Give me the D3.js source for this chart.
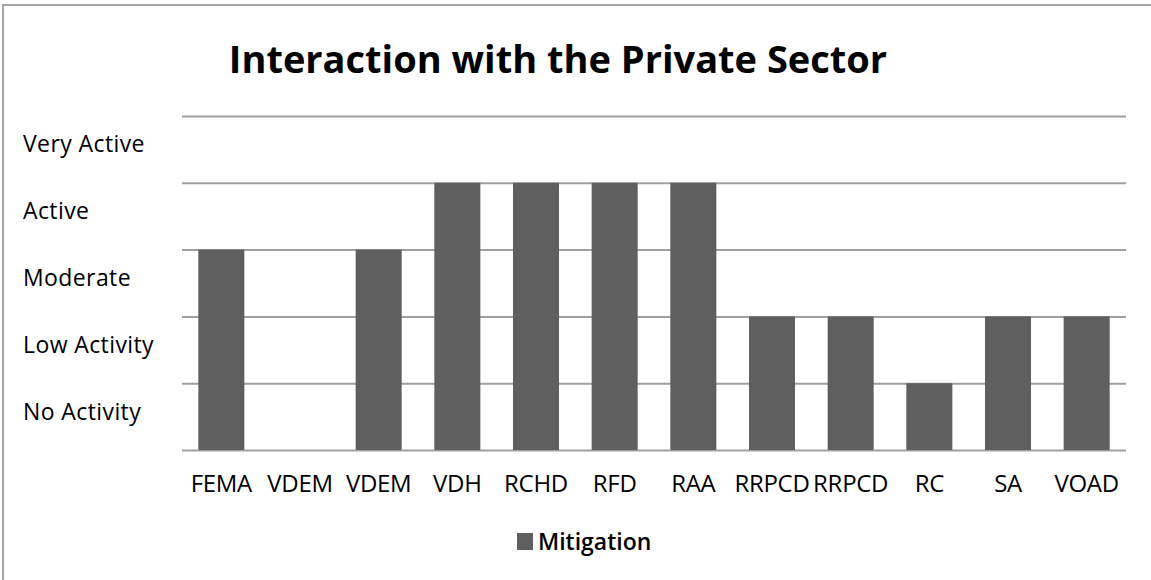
<!DOCTYPE html>
<html>
<head>
<meta charset="utf-8">
<script src="https://cdn.jsdelivr.net/npm/d3@7"></script>
<style>
  body { margin: 0; background: #fff; }
  text { font-family: 'Open Sans', sans-serif; fill: #000; }
</style>
</head>
<body>
<div class="holder"></div>
<script>
const width = 1151;
const height = 580;

const agencies = ['FEMA', 'VDEM', 'VDEM', 'VDH', 'RCHD', 'RFD', 'RAA', 'RRPCD', 'RRPCD', 'RC', 'SA', 'VOAD'];
const mitigation = [3, 0, 3, 4, 4, 4, 4, 2, 2, 1, 2, 2];
const levels = ['No Activity', 'Low Activity', 'Moderate', 'Active', 'Very Active'];

const plot = { left: 182, right: 1126, top: 116, bottom: 450 };

const svg = d3
  .select('.holder')
  .append('svg')
  .attr('width', width)
  .attr('height', height);

// chart frame
svg
  .append('path')
  .attr('d', `M3,${height} L3,5 L${width},5`)
  .attr('fill', 'none')
  .attr('stroke', '#a6a6a6')
  .attr('stroke-width', 2);

svg
  .append('text')
  .attr('x', 558)
  .attr('y', 73)
  .attr('text-anchor', 'middle')
  .style('font-size', '38px')
  .style('font-weight', 'bold')
  .text('Interaction with the Private Sector');

const xScale = d3
  .scaleBand()
  .domain(d3.range(agencies.length))
  .range([plot.left, plot.right])
  .paddingInner(0.415)
  .paddingOuter(0.2075);

const yScale = d3
  .scaleLinear()
  .domain([0, levels.length])
  .range([plot.bottom, plot.top]);

const levelScale = d3
  .scaleBand()
  .domain(levels)
  .range([plot.bottom, plot.top]);

// gridlines
svg
  .append('g')
  .attr('transform', `translate(${plot.left}, 0)`)
  .call(d3.axisLeft(yScale).ticks(levels.length).tickSize(-(plot.right - plot.left)).tickFormat(''))
  .call(g => g.select('.domain').remove())
  .call(g => g.selectAll('line').attr('stroke', '#a0a0a0').attr('stroke-width', 2));

// y labels
svg
  .append('g')
  .selectAll('text')
  .data(levels)
  .enter()
  .append('text')
  .attr('x', 23)
  .attr('y', d => levelScale(d) + levelScale.bandwidth() / 2 - 5)
  .attr('dy', '0.35em')
  .style('font-size', '23px')
  .style('letter-spacing', '0.4px')
  .text(d => d);

svg
  .append('g')
  .selectAll('rect')
  .data(mitigation)
  .enter()
  .append('rect')
  .attr('x', (d, i) => xScale(i))
  .attr('y', d => yScale(d))
  .attr('width', xScale.bandwidth())
  .attr('height', d => yScale(0) - yScale(d))
  .style('fill', '#5f5f5f');

// x labels
svg
  .append('g')
  .selectAll('text')
  .data(agencies)
  .enter()
  .append('text')
  .attr('x', (d, i) => xScale(i) + xScale.bandwidth() / 2)
  .attr('y', 492)
  .attr('text-anchor', 'middle')
  .style('font-size', '24px')
  .style('letter-spacing', '-0.3px')
  .text(d => d);

// legend
svg
  .append('rect')
  .attr('x', 517)
  .attr('y', 533)
  .attr('width', 16)
  .attr('height', 17)
  .style('fill', '#5f5f5f');

svg
  .append('text')
  .attr('x', 538)
  .attr('y', 550)
  .style('font-size', '23px')
  .style('font-weight', '600')
  .text('Mitigation');
</script>
</body>
</html>
